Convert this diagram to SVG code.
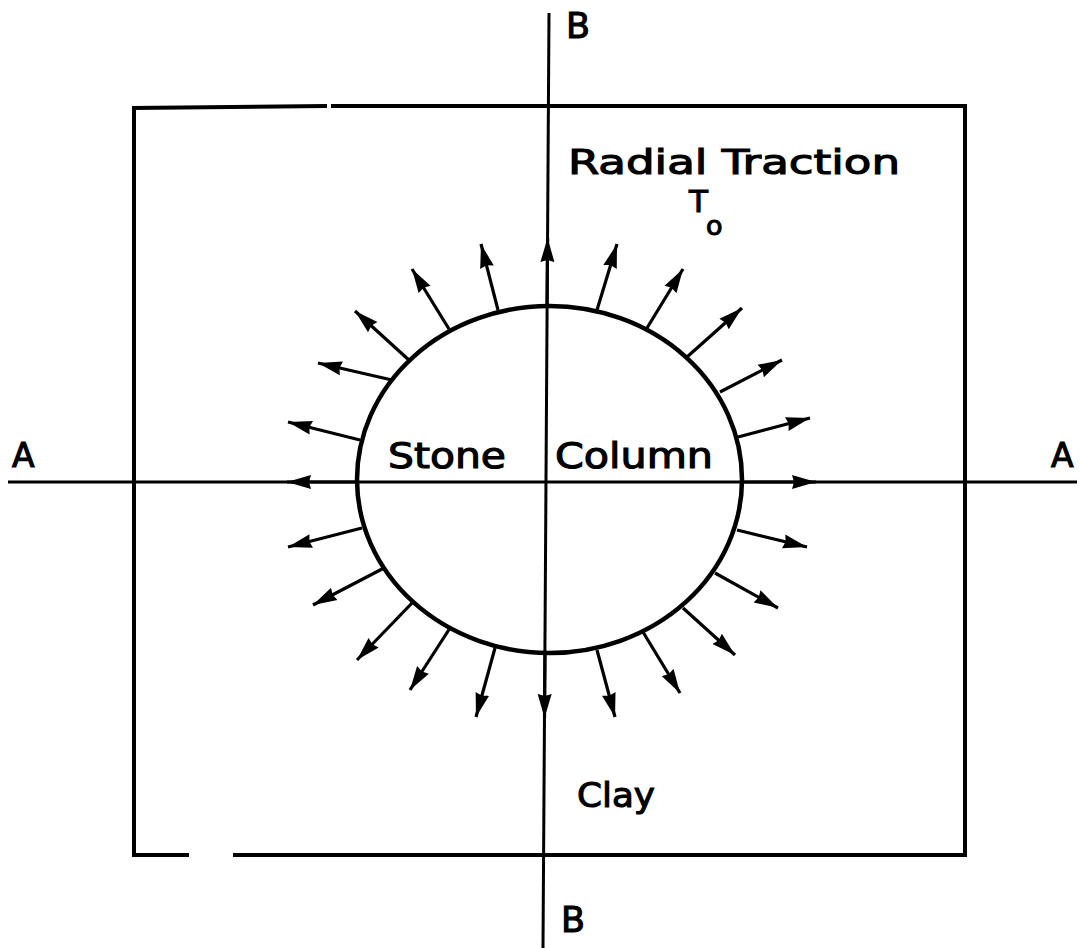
<svg xmlns="http://www.w3.org/2000/svg" width="1080" height="948" viewBox="0 0 1080 948">
<style>
.lbl{font-family:"DejaVu Sans","Liberation Sans",sans-serif;fill:#000;stroke:#000;stroke-width:1.1}
.frame{fill:none;stroke:#000;stroke-width:4;stroke-linecap:square}
.axis{fill:none;stroke:#000;stroke-width:3}
.arr{fill:none;stroke:#000;stroke-width:3.2;marker-end:url(#ah)}
</style>
<defs>
<marker id="ah" markerUnits="userSpaceOnUse" markerWidth="26" markerHeight="16" refX="24" refY="8" orient="auto">
<path d="M0,1 L24,8 L0,15 L2,8 z" fill="#000"/>
</marker>
</defs>
<rect width="1080" height="948" fill="#fff"/>
<g id="frame">
<path class="frame" d="M134,109 L134,855 L187,855 M235,855 L965,855 L965,106 L333,106 M325,106 L134,108"/>
</g>
<g id="axes">
<line class="axis" x1="549" y1="13" x2="543" y2="948"/>
<line class="axis" x1="8" y1="482" x2="1077" y2="482"/>
</g>
<g id="stone-column">
<ellipse cx="549.5" cy="479.5" rx="192.5" ry="173.5" fill="none" stroke="#000" stroke-width="4.5"/>
</g>
<g id="connectors">
<line class="arr" x1="547" y1="306" x2="547.6" y2="238"/>
<line class="arr" x1="498" y1="310" x2="481" y2="244"/>
<line class="arr" x1="449" y1="329" x2="412" y2="269"/>
<line class="arr" x1="410" y1="361" x2="355" y2="311"/>
<line class="arr" x1="392" y1="380" x2="318" y2="363"/>
<line class="arr" x1="360" y1="440" x2="288" y2="422"/>
<line class="arr" x1="357" y1="482" x2="287" y2="482"/>
<line class="arr" x1="362" y1="528" x2="288" y2="547"/>
<line class="arr" x1="384" y1="568" x2="313" y2="605"/>
<line class="arr" x1="413" y1="602" x2="357" y2="660"/>
<line class="arr" x1="450" y1="628" x2="410" y2="690"/>
<line class="arr" x1="495" y1="648" x2="476" y2="717"/>
<line class="arr" x1="545" y1="653" x2="544.5" y2="718"/>
<line class="arr" x1="597" y1="650" x2="615" y2="717"/>
<line class="arr" x1="643" y1="632" x2="680" y2="693"/>
<line class="arr" x1="683" y1="608" x2="735" y2="655"/>
<line class="arr" x1="715" y1="573" x2="778" y2="608"/>
<line class="arr" x1="737" y1="530" x2="807" y2="547"/>
<line class="arr" x1="742" y1="482" x2="816" y2="482"/>
<line class="arr" x1="738" y1="437" x2="810" y2="418"/>
<line class="arr" x1="720" y1="392" x2="782" y2="360"/>
<line class="arr" x1="687" y1="357" x2="742" y2="308"/>
<line class="arr" x1="647" y1="328" x2="683" y2="269"/>
<line class="arr" x1="597" y1="310" x2="617" y2="244"/>
</g>
<g id="labels">
<text class="lbl" x="566" y="38" font-size="35">B</text>
<text class="lbl" x="561" y="932" font-size="35">B</text>
<text class="lbl" x="12" y="467" font-size="33">A</text>
<text class="lbl" x="1051" y="467" font-size="33">A</text>
<text class="lbl" x="568" y="174" font-size="34" textLength="332" lengthAdjust="spacingAndGlyphs">Radial Traction</text>
<text class="lbl" x="689" y="212" font-size="31">T</text>
<text class="lbl" x="706" y="235" font-size="27">o</text>
<text class="lbl" x="388" y="468" font-size="35" textLength="118" lengthAdjust="spacingAndGlyphs">Stone</text>
<text class="lbl" x="555" y="468" font-size="35" textLength="158" lengthAdjust="spacingAndGlyphs">Column</text>
<text class="lbl" x="577" y="807" font-size="34" textLength="78" lengthAdjust="spacingAndGlyphs">Clay</text>
</g>
</svg>
